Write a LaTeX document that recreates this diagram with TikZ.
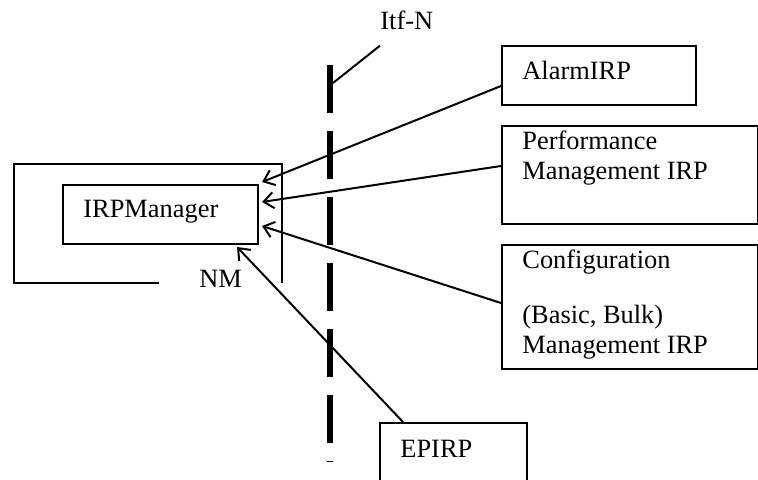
\documentclass[tikz,border=0pt]{standalone}
\usepackage{fontspec}
\setmainfont{Liberation Serif}
\usetikzlibrary{arrows.meta}

\begin{document}
\begin{tikzpicture}[x=0.5pt, y=-0.5pt,
    box/.style={draw, line width=1pt, inner sep=0pt, anchor=north west},
    lbl/.style={inner sep=0pt, anchor=base west, align=left, font=\fontsize{13.2}{15}\selectfont},
    msg/.style={line width=1pt, -{Straight Barb[length=5pt, width=8pt]}}]
  \useasboundingbox (0,0) rectangle (758,480);

  % NM frame, left open at the bottom right
  \draw[line width=1pt] (159,283) -- (14,283) -- (14,164) -- (282,164) -- (282,283);
  \node[lbl] (nm) at (199,287) {NM};

  % the boxes (multi-line labels sit on the baseline of their last line)
  \node[box, minimum width=97.5pt, minimum height=29.5pt] (irp) at (62,184) {};
  \node[lbl] (irptxt) at (83,218) {IRPManager};
  \node[box, minimum width=97pt, minimum height=29.5pt] (alarm) at (501,45) {};
  \node[lbl] (alarmtxt) at (522,80) {AlarmIRP};
  \node[box, minimum width=128pt, minimum height=49pt] (perf) at (501,125) {};
  \node[lbl] (perftxt) at (522,180) {Performance\\Management IRP};
  \node[box, minimum width=128pt, minimum height=62pt] (config) at (501,244) {};
  \node[lbl] (configtxt) at (522,353) {Configuration\\[12.5pt](Basic, Bulk)\\Management IRP};
  \node[box, minimum width=73.5pt, minimum height=40pt] (epirp) at (379,422) {};
  \node[lbl] (epirptxt) at (400,457) {EPIRP};

  % the Itf-N line
  \coordinate (itftop) at (330,65);
  \coordinate (itfbot) at (330,462);
  \draw[line width=3pt, dash pattern=on 24pt off 9pt] (itftop) -- (itfbot);
  \node[lbl] (itf) at (380,30) {Itf-N};
  \coordinate (itfpt) at (333,83);
  \draw[line width=1pt] ([yshift=-7.5pt]itf.south west) -- (itfpt);

  % arrow tips next to the IRPManager
  \coordinate (tipA) at (262,182);
  \coordinate (tipB) at (262,202);
  \coordinate (tipC) at (262,226);
  \coordinate (tipD) at (237,247);
  \draw[msg] ([yshift=-5.25pt]alarm.west) -- (tipA);
  \draw[msg] ([yshift=4.5pt]perf.west) -- (tipB);
  \draw[msg] ([yshift=2pt]config.west) -- (tipC);
  \draw[msg] ([xshift=12pt]epirp.north west) -- (tipD);
\end{tikzpicture}
\end{document}
